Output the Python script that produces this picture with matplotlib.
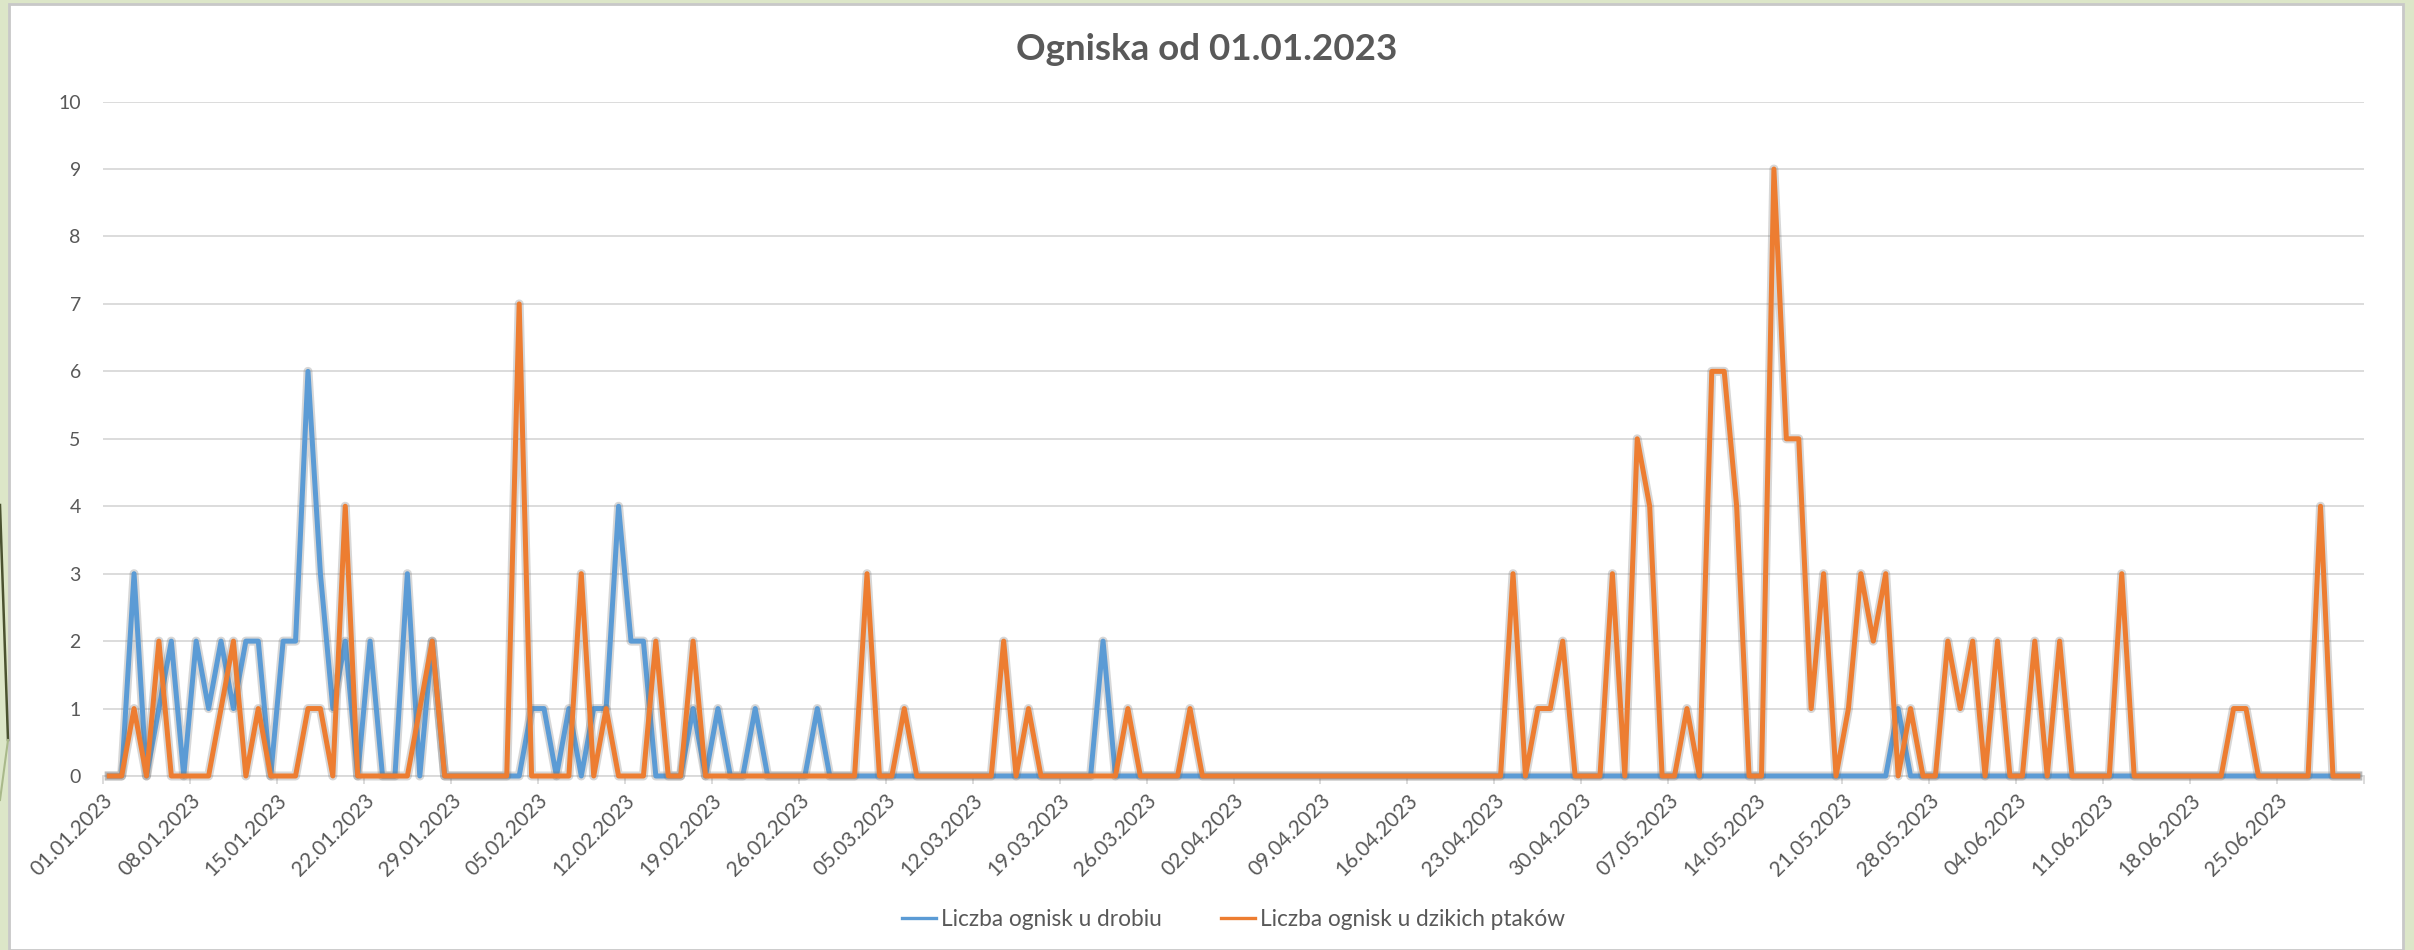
import numpy as np
import matplotlib
matplotlib.use("Agg")
import matplotlib.pyplot as plt
import matplotlib.patheffects as pe
from matplotlib.lines import Line2D
from matplotlib.patches import Rectangle

# ---- data: one value per day, 01.01.2023 .. 01.07.2023 (one row = one week) ----
drob = [
    0, 0, 3, 0, 1, 2, 0,
    2, 1, 2, 1, 2, 2, 0,
    2, 2, 6, 3, 1, 2, 0,
    2, 0, 0, 3, 0, 2, 0,
    0, 0, 0, 0, 0, 0, 1,
    1, 0, 1, 0, 1, 1, 4,
    2, 2, 0, 0, 0, 1, 0,
    1, 0, 0, 1, 0, 0, 0,
    0, 1, 0, 0, 0, 0, 0,
    0, 0, 0, 0, 0, 0, 0,
    0, 0, 0, 0, 0, 0, 0,
    0, 0, 0, 2, 0, 0, 0,
    0, 0, 0, 0, 0, 0, 0,
    0, 0, 0, 0, 0, 0, 0,
    0, 0, 0, 0, 0, 0, 0,
    0, 0, 0, 0, 0, 0, 0,
    0, 0, 0, 0, 0, 0, 0,
    0, 0, 0, 0, 0, 0, 0,
    0, 0, 0, 0, 0, 0, 0,
    0, 0, 0, 0, 0, 0, 0,
    0, 0, 0, 0, 1, 0, 0,
    0, 0, 0, 0, 0, 0, 0,
    0, 0, 0, 0, 0, 0, 0,
    0, 0, 0, 0, 0, 0, 0,
    0, 0, 0, 0, 0, 0, 0,
    0, 0, 0, 0, 0, 0, 0,
]

dzikie = [
    0, 0, 1, 0, 2, 0, 0,
    0, 0, 1, 2, 0, 1, 0,
    0, 0, 1, 1, 0, 4, 0,
    0, 0, 0, 0, 1, 2, 0,
    0, 0, 0, 0, 0, 7, 0,
    0, 0, 0, 3, 0, 1, 0,
    0, 0, 2, 0, 0, 2, 0,
    0, 0, 0, 0, 0, 0, 0,
    0, 0, 0, 0, 0, 3, 0,
    0, 1, 0, 0, 0, 0, 0,
    0, 0, 2, 0, 1, 0, 0,
    0, 0, 0, 0, 0, 1, 0,
    0, 0, 0, 1, 0, 0, 0,
    0, 0, 0, 0, 0, 0, 0,
    0, 0, 0, 0, 0, 0, 0,
    0, 0, 0, 0, 0, 0, 0,
    0, 3, 0, 1, 1, 2, 0,
    0, 0, 3, 0, 5, 4, 0,
    0, 1, 0, 6, 6, 4, 0,
    0, 9, 5, 5, 1, 3, 0,
    1, 3, 2, 3, 0, 1, 0,
    0, 2, 1, 2, 0, 2, 0,
    0, 2, 0, 2, 0, 0, 0,
    0, 3, 0, 0, 0, 0, 0,
    0, 0, 0, 1, 1, 0, 0,
    0, 0, 0, 4, 0, 0, 0,
]

tick_labels = [
    "01.01.2023", "08.01.2023", "15.01.2023", "22.01.2023", "29.01.2023",
    "05.02.2023", "12.02.2023", "19.02.2023", "26.02.2023", "05.03.2023",
    "12.03.2023", "19.03.2023", "26.03.2023", "02.04.2023", "09.04.2023",
    "16.04.2023", "23.04.2023", "30.04.2023", "07.05.2023", "14.05.2023",
    "21.05.2023", "28.05.2023", "04.06.2023", "11.06.2023", "18.06.2023",
    "25.06.2023", "",
]

series_names = ["Liczba ognisk u drobiu", "Liczba ognisk u dzikich ptaków"]
title = "Ogniska od 01.01.2023"

# ---- styling ----
BLUE = "#5B9BD5"
ORANGE = "#ED7D31"
TXT = "#595959"
GRID = "#D9D9D9"
FONT = ["Lato", "DejaVu Sans"]
plt.rcParams["font.family"] = FONT

W, H = 2414, 950
fig = plt.figure(figsize=(W / 100, H / 100), dpi=100)
fig.patch.set_facecolor("#DCE6C8")

# white chart area with grey frame (slide background around it)
fig.add_artist(Rectangle((9 / W, 0), (2403 - 9) / W, 1 - 4 / H,
                         transform=fig.transFigure, facecolor="white",
                         edgecolor="#C8C8C8", linewidth=2.0, zorder=0))
# decorative slide stroke at the left edge
fig.add_artist(Line2D([0 / W, 8 / W], [1 - 505 / H, 1 - 740 / H],
                      transform=fig.transFigure, color="#4A5230", lw=1.8, zorder=1))
fig.add_artist(Line2D([8 / W, 0 / W], [1 - 740 / H, 1 - 800 / H],
                      transform=fig.transFigure, color="#A9B98A", lw=1.5, zorder=1))

left, right = 103 / W, 2364 / W
bottom, top = 1 - 776 / H, 1 - 101.6 / H
ax = fig.add_axes([left, bottom, right - left, top - bottom])
ax.set_facecolor("none")

n = len(drob)
x = np.arange(n) + 0.5

shadow = [pe.Stroke(linewidth=6.5, foreground="#707070", alpha=0.28), pe.Normal()]
ax.plot(x, drob, color=BLUE, lw=3.6, solid_joinstyle="round",
        path_effects=shadow, zorder=3, clip_on=False)
ax.plot(x, dzikie, color=ORANGE, lw=3.6, solid_joinstyle="round",
        path_effects=shadow, zorder=4, clip_on=False)

ax.set_xlim(0, n)
ax.set_ylim(0, 10)
ax.set_yticks(np.arange(0, 11, 1))
ax.set_xticks(np.arange(0, n + 1, 7))
ax.set_xticklabels(tick_labels, rotation=45, ha="right", va="top",
                   rotation_mode="anchor")

ax.grid(axis="y", color=GRID, lw=1.3)
ax.set_axisbelow(True)
for s in ["top", "right", "left"]:
    ax.spines[s].set_visible(False)
ax.spines["bottom"].set_color(GRID)
ax.spines["bottom"].set_linewidth(1.3)

ax.tick_params(axis="y", length=0, pad=16, labelsize=14, labelcolor=TXT)
ax.tick_params(axis="x", length=6, width=1.3, color=GRID, pad=4,
               labelsize=15, labelcolor=TXT)

fig.text(0.5, 1 - 49 / H, title, ha="center", va="center",
         fontsize=26.5, fontweight="bold", color=TXT)

handles = [Line2D([], [], color=BLUE, lw=2.4), Line2D([], [], color=ORANGE, lw=2.4)]
fig.legend(handles, series_names, loc="center",
           bbox_to_anchor=((left + right) / 2, 1 - 919 / H), ncol=2,
           frameon=False, fontsize=16.3, labelcolor=TXT, handlelength=1.5,
           handletextpad=0.25, columnspacing=2.6)

fig.savefig("out.png", dpi=100, facecolor=fig.get_facecolor())
